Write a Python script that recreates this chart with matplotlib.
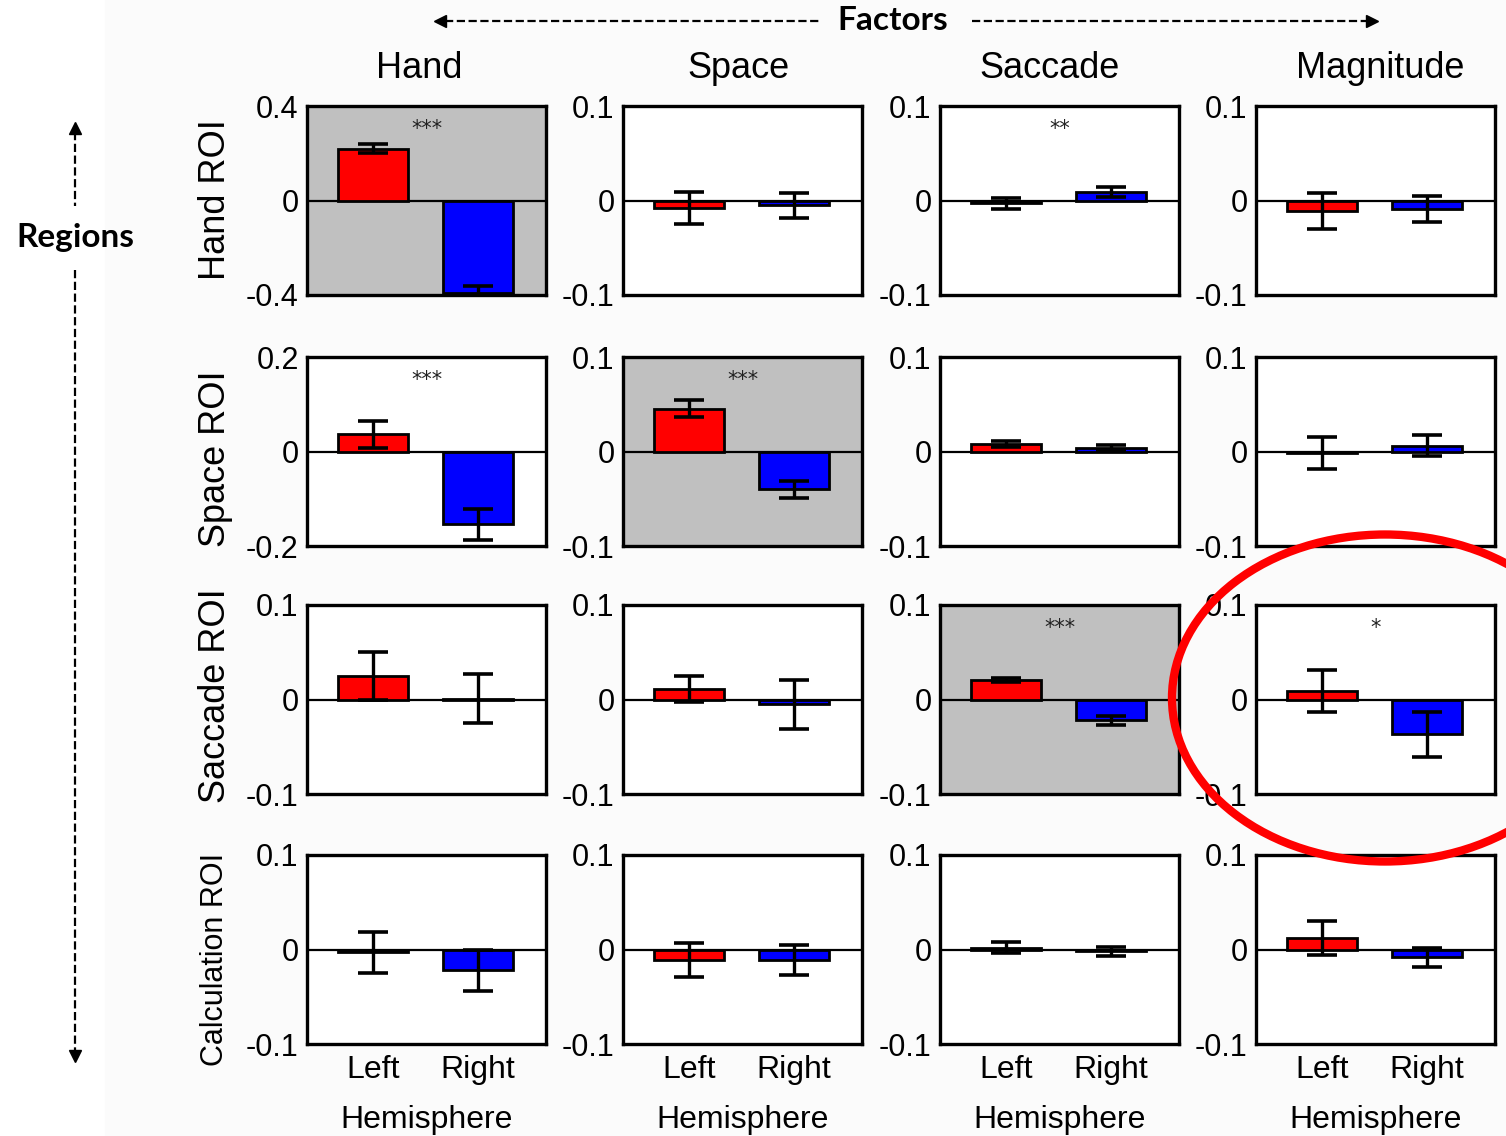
import matplotlib
matplotlib.use("Agg")
import matplotlib.pyplot as plt
import numpy as np
from matplotlib.lines import Line2D
from matplotlib.patches import Ellipse, Rectangle

plt.rcParams['font.family'] = ['Liberation Sans', 'DejaVu Sans']
plt.rcParams['axes.unicode_minus'] = False

# factors (columns) and regions (rows)
factors = ['Hand', 'Space', 'Saccade', 'Magnitude']
regions = ['Hand ROI', 'Space ROI', 'Saccade ROI', 'Calculation ROI']
hemis = ['Left', 'Right']

# mean effect per hemisphere, rows = regions, cols = factors
left_mean = [[0.22, -0.008, -0.003, -0.011],
             [0.036, 0.045, 0.008, -0.002],
             [0.025, 0.011, 0.021, 0.009],
             [-0.003, -0.011, 0.002, 0.012]]
left_err = [[0.02, 0.017, 0.006, 0.019],
            [0.029, 0.009, 0.003, 0.017],
            [0.025, 0.014, 0.002, 0.022],
            [0.022, 0.018, 0.006, 0.018]]
right_mean = [[-0.39, -0.005, 0.009, -0.009],
              [-0.154, -0.04, 0.004, 0.006],
              [0.001, -0.005, -0.022, -0.037],
              [-0.022, -0.011, -0.002, -0.008]]
right_err = [[0.03, 0.013, 0.005, 0.014],
             [0.033, 0.009, 0.003, 0.011],
             [0.026, 0.026, 0.005, 0.024],
             [0.022, 0.016, 0.005, 0.010]]
ylim = [[0.4, 0.1, 0.1, 0.1],
        [0.2, 0.1, 0.1, 0.1],
        [0.1, 0.1, 0.1, 0.1],
        [0.1, 0.1, 0.1, 0.1]]
stars = {(0, 0): '***', (0, 2): '**', (1, 0): '***', (1, 1): '***',
         (2, 2): '***', (2, 3): '*'}
shaded = [(0, 0), (1, 1), (2, 2)]

W, H = 1506, 1136
fig = plt.figure(figsize=(W / 100, H / 100), dpi=100)

# very faint grey backdrop of the original figure
fig.add_artist(Rectangle((105 / W, 0), 1 - 105 / W, 1, transform=fig.transFigure,
                         color='#fbfbfb', zorder=-5))

col_x = [307, 623, 940, 1256]
row_y = [106, 357, 605, 855]
pw, ph = 239, 189

def fmt(v):
    if v == 0:
        return '0'
    return ('%.1f' % v)

for r in range(4):
    for c in range(4):
        ax = fig.add_axes([col_x[c] / W, 1 - (row_y[r] + ph) / H, pw / W, ph / H])
        lim = ylim[r][c]
        ax.set_facecolor('#c0c0c0' if (r, c) in shaded else 'white')
        ax.axhline(0, color='black', lw=1.6, zorder=1)
        ax.bar([0, 1], [left_mean[r][c], right_mean[r][c]], width=0.67,
               color=['#ff0000', '#0000ff'], edgecolor='black', linewidth=2, zorder=2)
        ax.errorbar([0, 1], [left_mean[r][c], right_mean[r][c]],
                    yerr=[left_err[r][c], right_err[r][c]], fmt='none',
                    ecolor='black', elinewidth=2.4, capsize=11, capthick=2.6, zorder=3)
        if (r, c) in stars:
            ax.text(0.5, 0.88, stars[(r, c)], transform=ax.transAxes,
                    ha='center', va='center', fontsize=15, color='#222222',
                    family=['DejaVu Sans'])
        ax.set_xlim(-0.63, 1.65)
        ax.set_ylim(-lim, lim)
        ax.set_yticks([-lim, 0, lim])
        ax.set_yticklabels([fmt(-lim), '0', fmt(lim)], fontsize=22)
        ax.tick_params(axis='both', length=0, pad=6)
        for s in ax.spines.values():
            s.set_linewidth(2.4)
        if r == 3:
            ax.set_xticks([0, 1])
            ax.set_xticklabels(hemis, fontsize=23)
            ax.tick_params(axis='x', pad=8)
            ax.set_xlabel('Hemisphere', fontsize=23, labelpad=14)
        else:
            ax.set_xticks([])

# column titles
title_x = [419, 738, 1050, 1380]
for c in range(4):
    fig.text(title_x[c] / W, 1 - 68 / H, factors[c], ha='center', va='center', fontsize=26)

# row labels
label_y = [200, 459, 696, 959]
label_size = [26, 26, 26, 22]
for r in range(4):
    fig.text(215 / W, 1 - label_y[r] / H, regions[r], ha='center', va='center',
             rotation=90, fontsize=label_size[r])

# Factors header with dashed arrows
fig.text(893 / W, 1 - 21 / H, 'Factors', ha='center', va='center',
         fontsize=24, fontweight='bold', family=['Lato', 'DejaVu Sans'])
yF = 1 - 21 / H
fig.add_artist(Line2D([445 / W, 820 / W], [yF, yF], ls='--', color='black', lw=1.6))
fig.add_artist(Line2D([972 / W, 1368 / W], [yF, yF], ls='--', color='black', lw=1.6))
fig.add_artist(Line2D([440 / W], [yF], marker='<', color='black', ms=9, ls='none'))
fig.add_artist(Line2D([1372 / W], [yF], marker='>', color='black', ms=9, ls='none'))

# Regions header with dashed arrows
fig.text(75 / W, 1 - 238 / H, 'Regions', ha='center', va='center',
         fontsize=24, fontweight='bold', family=['Lato', 'DejaVu Sans'])
xR = 75 / W
fig.add_artist(Line2D([xR, xR], [1 - 132 / H, 1 - 206 / H], ls='--', color='black', lw=1.6))
fig.add_artist(Line2D([xR, xR], [1 - 270 / H, 1 - 1052 / H], ls='--', color='black', lw=1.6))
fig.add_artist(Line2D([xR], [1 - 128 / H], marker='^', color='black', ms=9, ls='none'))
fig.add_artist(Line2D([xR], [1 - 1056 / H], marker='v', color='black', ms=9, ls='none'))

# red highlight circle
fig.add_artist(Ellipse((1385 / W, 1 - 698 / H), 426 / W, 327 / H, transform=fig.transFigure,
                       fill=False, edgecolor='#ff0000', lw=6, zorder=10))

fig.savefig('out.png', dpi=100)
